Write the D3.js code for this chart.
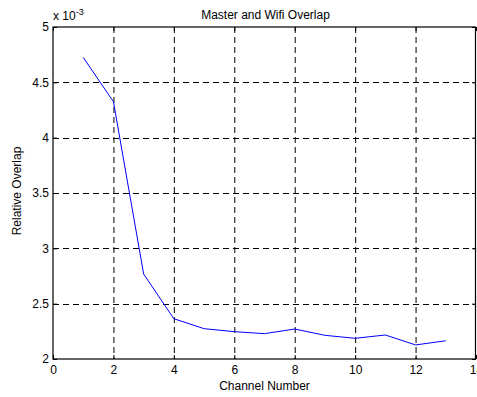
<!DOCTYPE html>
<html>
<head>
<meta charset="utf-8">
<script src="https://cdn.jsdelivr.net/npm/d3@7"></script>
<style>
html,body{margin:0;padding:0;background:#fff;}
svg{display:block;font-family:"Liberation Sans",Arial,sans-serif;}
</style>
</head>
<body>
<svg id="chart" width="477" height="397"></svg>
<script>
const channels = [1,2,3,4,5,6,7,8,9,10,11,12,13];
const overlap = [4.725,4.325,2.768,2.364,2.274,2.247,2.229,2.271,2.214,2.187,2.217,2.127,2.165];
const xTicks = [0,2,4,6,8,10,12,14];
const yTicks = [2,2.5,3,3.5,4,4.5,5];
const title = "Master and Wifi Overlap";
const xLabel = "Channel Number";
const yLabel = "Relative Overlap";

const svg = d3.select("#chart");
const L = 53, R = 476, T = 27, B = 359;
const x = d3.scaleLinear().domain([0,14]).range([L,R]);
const y = d3.scaleLinear().domain([2,5]).range([B,T]);

const fs = 12;
// grid
const g = svg.append("g");
g.selectAll("line.vx").data(xTicks.filter(d=>d>0&&d<14)).enter().append("line")
  .attr("x1",d=>x(d)+0.5).attr("x2",d=>x(d)+0.5).attr("y1",T).attr("y2",B)
  .attr("stroke","#000").attr("stroke-width",1).attr("stroke-dasharray","6,4");
g.selectAll("line.hy").data(yTicks.filter(d=>d>2&&d<5)).enter().append("line")
  .attr("y1",d=>Math.round(y(d))+0.5).attr("y2",d=>Math.round(y(d))+0.5).attr("x1",L).attr("x2",R)
  .attr("stroke","#000").attr("stroke-width",1).attr("stroke-dasharray","6,4");

// data line
const line = d3.line().x((d,i)=>x(channels[i])).y(d=>y(d));
svg.append("path").datum(overlap).attr("d",line)
  .attr("fill","none").attr("stroke","#0000ff").attr("stroke-width",1);

// box
svg.append("rect").attr("x",L).attr("y",T).attr("width",R-L-0.5).attr("height",B-T)
  .attr("fill","none").attr("stroke","#000").attr("stroke-width",1.2);

// axes with inward ticks
const xAxis = d3.axisBottom(x).tickValues(xTicks).tickSize(-4).tickPadding(6).tickFormat(d3.format("d"));
const gx = svg.append("g").attr("transform",`translate(0,${B})`).call(xAxis);
gx.select(".domain").remove();
gx.selectAll("text").attr("font-size",fs).attr("font-family","Liberation Sans, Arial, sans-serif").attr("fill","#000");
const gxTop = svg.append("g").attr("transform",`translate(0,${T})`).call(d3.axisTop(x).tickValues(xTicks).tickSize(-4).tickFormat(""));
gxTop.select(".domain").remove();

const yAxis = d3.axisLeft(y).tickValues(yTicks).tickSize(-4).tickPadding(4).tickFormat(d=>String(d));
const gy = svg.append("g").attr("transform",`translate(${L},0)`).call(yAxis);
gy.select(".domain").remove();
gy.selectAll("text").attr("font-size",fs).attr("font-family","Liberation Sans, Arial, sans-serif").attr("fill","#000");
const gyR = svg.append("g").attr("transform",`translate(${R},0)`).call(d3.axisRight(y).tickValues(yTicks).tickSize(-4).tickFormat(""));
gyR.select(".domain").remove();

// title and labels
svg.append("text").attr("x",(L+R)/2+1).attr("y",19).attr("text-anchor","middle")
  .attr("font-size",fs).text(title);
svg.append("text").attr("x",(L+R)/2).attr("y",390).attr("text-anchor","middle")
  .attr("font-size",fs).text(xLabel);
svg.append("text").attr("transform",`translate(21,191) rotate(-90)`).attr("text-anchor","middle")
  .attr("font-size",fs).text(yLabel);

// exponent
const ex = svg.append("text").attr("x",53).attr("y",20).attr("font-size",fs);
ex.append("tspan").text("x 10");
ex.append("tspan").attr("dy",-5).attr("font-size",9).text("-3");
</script>
</body>
</html>
